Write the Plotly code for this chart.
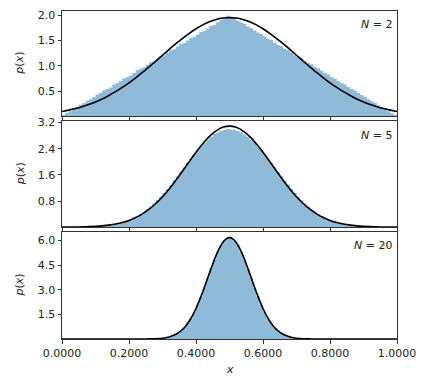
import numpy as np
import plotly.graph_objects as go

# ---------------- data ----------------
N_VALUES = [2, 5, 20]
BIN_EDGES = np.round(np.linspace(0.0, 1.0, 101), 2)

HIST_N2 = [
    0.03, 0.07, 0.10, 0.15, 0.18, 0.23, 0.26, 0.31, 0.34, 0.38,
    0.43, 0.46, 0.51, 0.54, 0.57, 0.63, 0.66, 0.70, 0.75, 0.78,
    0.81, 0.86, 0.91, 0.94, 0.97, 1.02, 1.07, 1.09, 1.14, 1.19,
    1.21, 1.26, 1.31, 1.33, 1.38, 1.43, 1.45, 1.50, 1.55, 1.57,
    1.62, 1.67, 1.69, 1.74, 1.79, 1.81, 1.86, 1.91, 1.93, 1.99,
    1.97, 1.95, 1.89, 1.86, 1.83, 1.78, 1.75, 1.70, 1.66, 1.63,
    1.58, 1.53, 1.51, 1.46, 1.41, 1.39, 1.34, 1.31, 1.26, 1.21,
    1.18, 1.15, 1.10, 1.06, 1.03, 0.98, 0.95, 0.90, 0.86, 0.83,
    0.78, 0.75, 0.70, 0.66, 0.63, 0.58, 0.54, 0.51, 0.46, 0.42,
    0.39, 0.34, 0.30, 0.27, 0.22, 0.18, 0.15, 0.10, 0.06, 0.03,
]

HIST_N5 = [
    0, 0, 0, 0.0002, 0.0005, 0.001, 0.002, 0.004, 0.007, 0.011,
    0.016, 0.023, 0.031, 0.044, 0.058, 0.074, 0.097, 0.121, 0.153, 0.190,
    0.229, 0.281, 0.331, 0.398, 0.463, 0.548, 0.628, 0.727, 0.822, 0.936,
    1.044, 1.171, 1.290, 1.428, 1.552, 1.697, 1.825, 1.969, 2.093, 2.232,
    2.349, 2.478, 2.574, 2.684, 2.760, 2.846, 2.894, 2.952, 2.971, 2.999,
    2.986, 2.982, 2.940, 2.906, 2.835, 2.771, 2.673, 2.586, 2.466, 2.357,
    2.224, 2.103, 1.960, 1.834, 1.688, 1.561, 1.420, 1.298, 1.164, 1.052,
    0.930, 0.828, 0.721, 0.635, 0.542, 0.469, 0.394, 0.335, 0.276, 0.232,
    0.187, 0.154, 0.120, 0.098, 0.074, 0.058, 0.043, 0.032, 0.022, 0.016,
    0.011, 0.007, 0.004, 0.002, 0.001, 0.0005, 0.0002, 0, 0, 0,
]

HIST_N20 = [
    0, 0, 0, 0, 0, 0, 0, 0, 0, 0,
    0, 0, 0, 0, 0, 0, 0, 0, 0, 0,
    0, 0, 0, 0.001, 0.002, 0.004, 0.008, 0.013, 0.023, 0.038,
    0.061, 0.098, 0.152, 0.229, 0.338, 0.488, 0.701, 0.941, 1.272, 1.632,
    2.108, 2.581, 3.163, 3.701, 4.322, 4.829, 5.352, 5.711, 6.032, 6.148,
    6.173, 5.998, 5.749, 5.318, 4.861, 4.281, 3.739, 3.131, 2.612, 2.079,
    1.659, 1.251, 0.956, 0.688, 0.503, 0.341, 0.241, 0.153, 0.105, 0.061,
    0.041, 0.022, 0.015, 0.007, 0.005, 0.002, 0.001, 0, 0, 0,
    0, 0, 0, 0, 0, 0, 0, 0, 0, 0,
    0, 0, 0, 0, 0, 0, 0, 0, 0, 0,
]

CURVE_X_COARSE = np.round(np.linspace(0.0, 1.0, 51), 2)
CURVE_X_FINE = np.round(np.linspace(0.0, 1.0, 101), 2)

CURVE_N2 = [
    0.097, 0.123, 0.154, 0.191, 0.235, 0.286, 0.345, 0.413, 0.488, 0.572,
    0.664, 0.763, 0.868, 0.979, 1.093, 1.209, 1.325, 1.437, 1.544, 1.644,
    1.733, 1.810, 1.871, 1.917, 1.945, 1.954, 1.945, 1.917, 1.871, 1.810,
    1.733, 1.644, 1.544, 1.437, 1.325, 1.209, 1.093, 0.979, 0.868, 0.763,
    0.664, 0.572, 0.488, 0.413, 0.345, 0.286, 0.235, 0.191, 0.154, 0.123,
    0.097,
]

CURVE_N5 = [
    0.002, 0.003, 0.005, 0.009, 0.016, 0.025, 0.041, 0.063, 0.096, 0.143,
    0.208, 0.294, 0.407, 0.549, 0.723, 0.931, 1.169, 1.434, 1.716, 2.006,
    2.289, 2.550, 2.774, 2.945, 3.053, 3.090, 3.053, 2.945, 2.774, 2.550,
    2.289, 2.006, 1.716, 1.434, 1.169, 0.931, 0.723, 0.549, 0.407, 0.294,
    0.208, 0.143, 0.096, 0.063, 0.041, 0.025, 0.016, 0.009, 0.005, 0.003,
    0.002,
]

CURVE_N20 = [
    0, 0, 0, 0, 0, 0, 0, 0, 0, 0,
    0, 0, 0, 0, 0, 0, 0, 0, 0, 0,
    0.0001, 0.0003, 0.0005, 0.001, 0.0019, 0.0034, 0.0062, 0.0108, 0.0186, 0.0311,
    0.0509, 0.0812, 0.1266, 0.193, 0.2863, 0.415, 0.588, 0.813, 1.098, 1.447,
    1.861, 2.338, 2.867, 3.432, 4.012, 4.578, 5.100, 5.547, 5.890, 6.106,
    6.180,
    6.106, 5.890, 5.547, 5.100, 4.578, 4.012, 3.432, 2.867, 2.338, 1.861,
    1.447, 1.098, 0.813, 0.588, 0.415, 0.2863, 0.193, 0.1266, 0.0812, 0.0509,
    0.0311, 0.0186, 0.0108, 0.0062, 0.0034, 0.0019, 0.001, 0.0005, 0.0003, 0.0001,
    0, 0, 0, 0, 0, 0, 0, 0, 0, 0,
    0, 0, 0, 0, 0, 0, 0, 0, 0, 0,
]

X_TICKS = [0.0, 0.2, 0.4, 0.6, 0.8, 1.0]
Y_TICKS = [[0.5, 1.0, 1.5, 2.0], [0.8, 1.6, 2.4, 3.2], [1.5, 3.0, 4.5, 6.0]]
Y_MAX = [2.085, 3.24, 6.52]

# ---------------- figure ----------------
HISTS = [HIST_N2, HIST_N5, HIST_N20]
CURVES = [(CURVE_X_COARSE, CURVE_N2), (CURVE_X_COARSE, CURVE_N5), (CURVE_X_FINE, CURVE_N20)]
DOMAINS = [[0.679, 1.0], [0.341, 0.664], [0.0, 0.326]]

FONT = "DejaVu Sans"
AXC = "#333333"
TXT = "#222222"

fig = go.Figure()
for i in range(3):
    sfx = "" if i == 0 else str(i + 1)
    h = list(HISTS[i])
    fig.add_trace(go.Scatter(
        x=BIN_EDGES, y=h + [h[-1]], mode="lines", line_shape="hv",
        fill="tozeroy", fillcolor="rgba(31,119,180,0.5)",
        line=dict(width=0, color="rgba(0,0,0,0)"),
        xaxis="x" + sfx, yaxis="y" + sfx, hoverinfo="skip", showlegend=False))
    cx, cy = CURVES[i]
    fig.add_trace(go.Scatter(
        x=cx, y=cy, mode="lines", line=dict(color="black", width=1.6, shape="spline", smoothing=0.8),
        xaxis="x" + sfx, yaxis="y" + sfx, showlegend=False))

# page body adds an 8px offset, so the figure is 8px smaller and shifted
layout = dict(
    width=437, height=372, autosize=False,
    margin=dict(l=54, r=48, t=3, b=41, pad=0),
    paper_bgcolor="white", plot_bgcolor="white",
    font=dict(family=FONT, size=11, color=TXT),
)
annotations = []
for i in range(3):
    sfx = "" if i == 0 else str(i + 1)
    layout["xaxis" + sfx] = dict(
        domain=[0, 1], anchor="y" + sfx, range=[0, 1],
        tickvals=X_TICKS, tickformat=".4f", showticklabels=(i == 2),
        ticks="outside", ticklen=3.5, tickwidth=1, tickcolor=AXC,
        showline=True, linecolor=AXC, linewidth=1, mirror=True,
        showgrid=False, zeroline=False, automargin=False,
        tickfont=dict(family=FONT, size=11, color=TXT),
    )
    layout["yaxis" + sfx] = dict(
        domain=DOMAINS[i], anchor="x" + sfx, range=[0.001, Y_MAX[i]],
        tickvals=Y_TICKS[i], tickformat=".1f",
        ticks="outside", ticklen=3.5, tickwidth=1, tickcolor=AXC,
        showline=True, linecolor=AXC, linewidth=1, mirror=True,
        showgrid=False, zeroline=False, automargin=False,
        tickfont=dict(family=FONT, size=11, color=TXT),
    )
    annotations.append(dict(
        text="<i>N</i> = %d" % N_VALUES[i], xref="x%s domain" % sfx, yref="y%s domain" % sfx,
        x=0.99, y=0.95, xanchor="right", yanchor="top", showarrow=False,
        font=dict(family=FONT, size=11, color=TXT)))
    annotations.append(dict(
        text="<i>p</i>(<i>x</i>)", xref="paper", yref="paper",
        x=0, xshift=-42, y=(DOMAINS[i][0] + DOMAINS[i][1]) / 2,
        xanchor="center", yanchor="middle", textangle=-90, showarrow=False,
        font=dict(family=FONT, size=11, color=TXT)))
annotations.append(dict(
    text="<i>x</i>", xref="paper", yref="paper", x=0.5, y=0, yshift=-30,
    xanchor="center", yanchor="middle", showarrow=False,
    font=dict(family=FONT, size=11, color=TXT)))
layout["annotations"] = annotations
fig.update_layout(**layout)

fig.write_html("out.html")
